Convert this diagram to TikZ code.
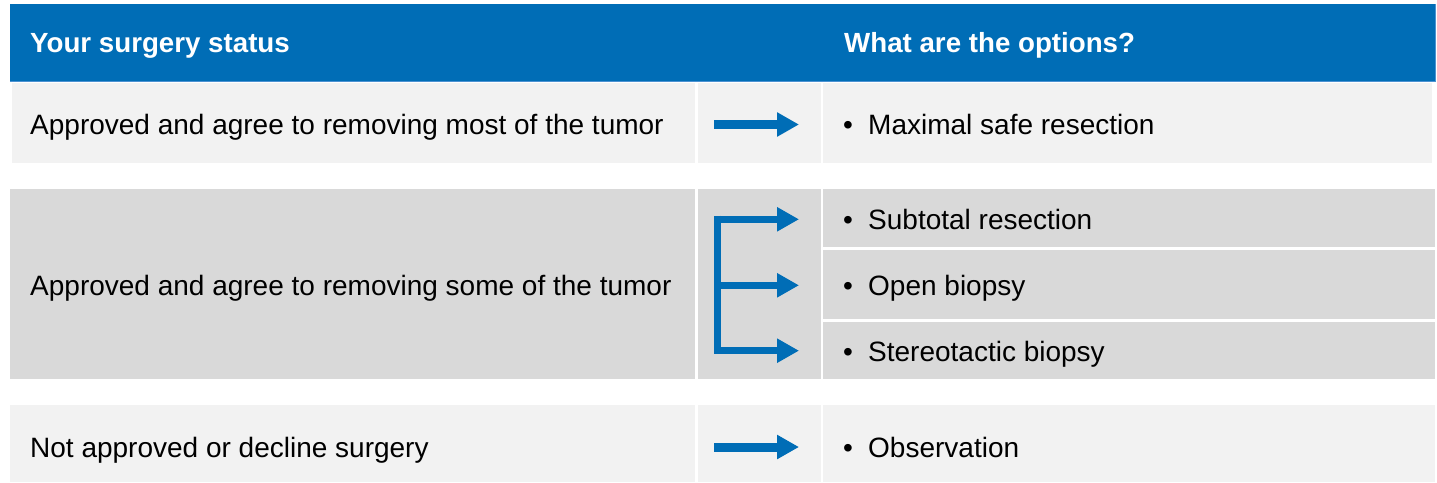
\documentclass[tikz,border=0pt]{standalone}
\usepackage{fontspec}
\setmainfont{Liberation Sans}
\usetikzlibrary{arrows.meta}
\definecolor{hblue}{HTML}{006DB6}
\definecolor{hedge}{HTML}{4C92D2}
\definecolor{lightcell}{HTML}{F2F2F2}
\definecolor{darkcell}{HTML}{D9D9D9}
\tikzset{
  headtext/.style={anchor=base west, inner sep=0pt, text=white, font=\fontsize{27.7}{33}\selectfont\bfseries},
  bodytext/.style={anchor=base west, inner sep=0pt, text=black, font=\fontsize{28}{34}\selectfont},
  bigarrow/.style={draw=hblue, line width=9pt, line cap=butt, -{Triangle[length=22pt,width=23pt]}},
  brarrow/.style={draw=hblue, line width=7.5pt, line cap=butt, -{Triangle[length=22pt,width=23pt]}},
}
\newcommand{\bul}[1]{\makebox[25pt][l]{\textbullet}#1}
\begin{document}
\begin{tikzpicture}[x=1pt,y=-1pt]
\useasboundingbox (0,0) rectangle (1437,482);
% header
\fill[hblue] (10,4) rectangle (1435,81);
\draw[hedge, line width=0.8pt] (10,81) -- (1435,81) -- (1435,4);
\node[headtext] (h1) at (30,52.7) {Your surgery status};
\node[headtext] (h2) at (844,52.7) {What are the options?};
% row 1
\fill[lightcell] (12,83) rectangle (695,163);
\fill[lightcell] (698,83) rectangle (821,163);
\fill[lightcell] (823,83) rectangle (1432,163);
% row 2
\fill[darkcell] (10,189) rectangle (695,379);
\fill[darkcell] (698,189) rectangle (821,379);
\fill[darkcell] (823,189) rectangle (1435,246.5);
\fill[darkcell] (823,249.5) rectangle (1435,318.5);
\fill[darkcell] (823,321.5) rectangle (1435,379);
% row 3
\fill[lightcell] (10,405) rectangle (695,482);
\fill[lightcell] (698,405) rectangle (821,482);
\fill[lightcell] (823,405) rectangle (1435,482);
% texts
\node[bodytext] (s1) at (30,134) {Approved and agree to removing most of the tumor};
\node[bodytext] (s2) at (30,295) {Approved and agree to removing some of the tumor};
\node[bodytext] (s3) at (30,457) {Not approved or decline surgery};
\node[bodytext] (o1) at (843,134) {\bul{Maximal safe resection}};
\node[bodytext] (o2a) at (843,229.5) {\bul{Subtotal resection}};
\node[bodytext] (o2b) at (843,295.5) {\bul{Open biopsy}};
\node[bodytext] (o2c) at (843,361) {\bul{Stereotactic biopsy}};
\node[bodytext] (o3) at (843,457) {\bul{Observation}};
% arrows
\coordinate (a1s) at (714.3,124.5);
\coordinate (a1e) at (799,124.5);
\coordinate (a3s) at (714.3,447);
\coordinate (a3e) at (799,447);
\coordinate (bt) at (717.5,215.7);
\coordinate (bb) at (717.5,354.3);
\coordinate (b1s) at (714.3,219.3);
\coordinate (b1e) at (799,219.3);
\coordinate (b2s) at (714.3,285.3);
\coordinate (b2e) at (799,285.3);
\coordinate (b3s) at (714.3,350.7);
\coordinate (b3e) at (799,350.7);
\draw[bigarrow] (a1s) -- (a1e);
\draw[bigarrow] (a3s) -- (a3e);
\draw[draw=hblue, line width=6.5pt] (bt) -- (bb);
\draw[brarrow] (b1s) -- (b1e);
\draw[brarrow] (b2s) -- (b2e);
\draw[brarrow] (b3s) -- (b3e);
\end{tikzpicture}
\end{document}
